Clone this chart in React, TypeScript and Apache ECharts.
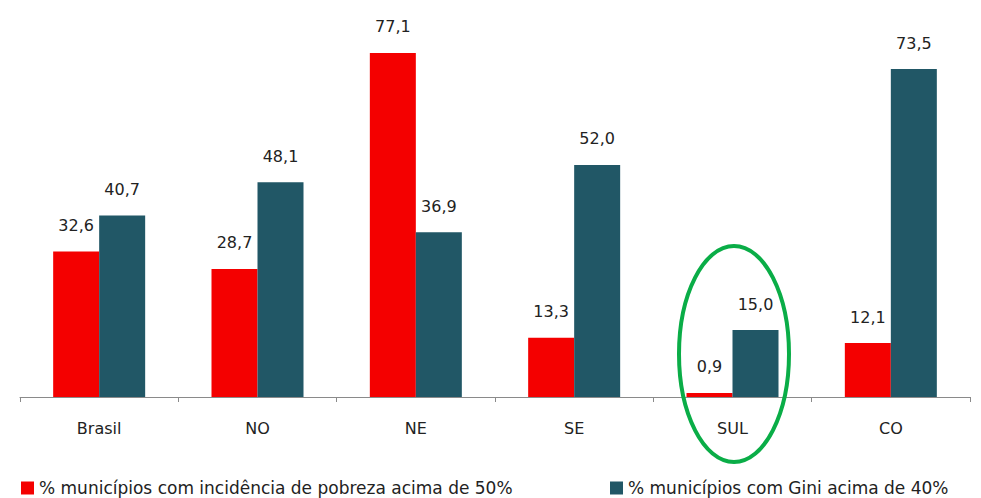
import React, { useEffect, useRef } from "react";
import * as echarts from "echarts";

const categories = ["Brasil", "NO", "NE", "SE", "SUL", "CO"];
const pobrezaValues = [32.6, 28.7, 77.1, 13.3, 0.9, 12.1];
const giniValues = [40.7, 48.1, 36.9, 52.0, 15.0, 73.5];
const seriesNames = [
  "% municípios com incidência de pobreza acima de 50%",
  "% municípios com Gini acima de 40%",
];

const fmt = (v: number) => v.toFixed(1).replace(".", ",");

export default function App() {
  const ref = useRef<HTMLDivElement>(null);
  useEffect(() => {
    if (!ref.current) return;
    const chart = echarts.init(ref.current, null, { renderer: "svg" });
    const labelStyle = {
      show: true,
      position: "top" as const,
      distance: 18,
      fontFamily: "DejaVu Sans",
      fontSize: 16,
      color: "#222",
      formatter: (p: any) => fmt(p.value),
    };
    const legendText = { fontFamily: "DejaVu Sans", fontSize: 17, color: "#222", lineHeight: 18 };
    chart.setOption({
      animation: false,
      backgroundColor: "#ffffff",
      grid: { left: 20, right: 11, top: 40, bottom: 101 },
      xAxis: {
        type: "category",
        data: categories,
        axisLine: { lineStyle: { color: "#8a8a8a", width: 1 } },
        axisTick: { show: true, length: 5, lineStyle: { color: "#8a8a8a" } },
        axisLabel: {
          fontFamily: "DejaVu Sans",
          fontSize: 16,
          color: "#222",
          margin: 23,
        },
      },
      yAxis: {
        type: "value",
        min: 0,
        max: 80,
        show: false,
        splitLine: { show: false },
      },
      legend: [
        {
          data: [seriesNames[0]],
          left: 21,
          top: 479,
          padding: 0,
          itemWidth: 13,
          itemHeight: 13,
          itemGap: 6,
          icon: "rect",
          textStyle: legendText,
        },
        {
          data: [seriesNames[1]],
          left: 610,
          top: 479,
          padding: 0,
          itemWidth: 13,
          itemHeight: 13,
          icon: "rect",
          textStyle: legendText,
        },
      ],
      series: [
        {
          name: seriesNames[0],
          type: "bar",
          data: pobrezaValues,
          barWidth: 46,
          barGap: "0%",
          itemStyle: { color: "#f40000" },
          label: labelStyle,
        },
        {
          name: seriesNames[1],
          type: "bar",
          data: giniValues,
          barWidth: 46,
          barGap: "0%",
          itemStyle: { color: "#215766" },
          label: labelStyle,
        },
      ],
      graphic: [
        {
          type: "ellipse",
          shape: { cx: 734, cy: 354, rx: 55, ry: 108 },
          style: { fill: "none", stroke: "#0aad47", lineWidth: 4 },
          z: 100,
        },
      ],
    });
    return () => chart.dispose();
  }, []);
  return <div ref={ref} style={{ width: 981, height: 498, position: "absolute", left: 0, top: 0 }} />;
}
